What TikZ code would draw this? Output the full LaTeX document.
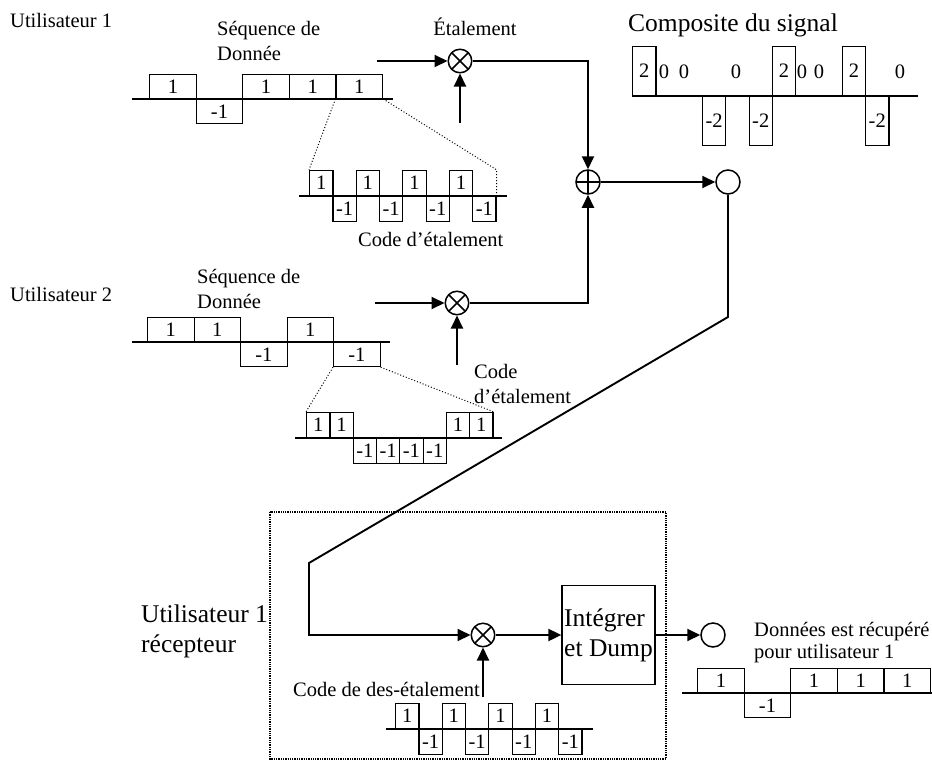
\documentclass[tikz,border=0pt]{standalone}
\usepackage{fontspec}
\setmainfont{Liberation Serif}
\usepackage{tikz}
\usetikzlibrary{
  positioning,
  arrows.meta
}
\newcommand{\labfont}{\fontsize{20.5}{25}\selectfont}
\newcommand{\headfont}{\fontsize{25.5}{30}\selectfont}

\begin{document}
\begin{tikzpicture}[
  x=1pt, y=-1pt,
  >={Triangle[length=13pt,width=12pt]},
  lbl/.style={font=\labfont, inner sep=0pt},
  head/.style={font=\headfont, inner sep=0pt},
  axis/.style={line width=1.2pt},
  wave/.style={draw, line width=1.2pt, inner sep=0pt, font=\labfont},
  bitup/.style={wave, anchor=south west},
  bitdn/.style={wave, anchor=north west},
  mix/.style={
    circle, draw, line width=1.5pt, minimum size=23.5pt, inner sep=0pt,
    path picture={\draw[line width=1.5pt]
      (path picture bounding box.north west) -- (path picture bounding box.south east)
      (path picture bounding box.north east) -- (path picture bounding box.south west);}
  },
  sum/.style={
    circle, draw, line width=1.5pt, minimum size=24pt, inner sep=0pt,
    path picture={\draw[line width=1.5pt]
      (path picture bounding box.north) -- (path picture bounding box.south)
      (path picture bounding box.west) -- (path picture bounding box.east);}
  },
  sink/.style={circle, draw, line width=1.5pt, minimum size=24pt, inner sep=0pt},
  link/.style={line width=1.9pt},
  zoomline/.style={dotted, line width=1pt}
]
\useasboundingbox (0,0) rectangle (932,761);

% utilisateur 1
\node[lbl, anchor=base west] (u1) at (10,27) {Utilisateur 1};
\node[lbl, align=left, anchor=north west] (seq1) at (217,21) {Séquence de\\Donnée};
\draw[axis] (132,99) -- (393,99);
\foreach \v [count=\i from 0] in {1,-1,1,1,1}{
  \ifnum\v>0
    \node[bitup, minimum width=46.6pt, minimum height=24pt] (da\i) at ({149+46.6*\i},99) {\v};
  \else
    \node[bitdn, minimum width=46.6pt, minimum height=24pt] (da\i) at ({149+46.6*\i},99) {\v};
  \fi
}
\draw[axis] (299,196) -- (507,196);
\foreach \v [count=\i from 0] in {1,-1,1,-1,1,-1,1,-1}{
  \ifnum\v>0
    \node[bitup, minimum width=23.3pt, minimum height=25pt] (ca\i) at ({309+23.3*\i},196) {\v};
  \else
    \node[bitdn, minimum width=23.3pt, minimum height=25pt] (ca\i) at ({309+23.3*\i},196) {\v};
  \fi
}
\draw[zoomline] (da4.south west) -- (ca0.north west);
\draw[zoomline] (da4.south east) -- (ca7.east |- ca0.north) -- (ca7.north east);
\node[lbl, anchor=base west] (codeA) at (358,246) {Code d’étalement};

\node[mix] (mA) at (460,61) {};
\node[lbl, above=13pt of mA, xshift=15pt] (etal) {Étalement};
\coordinate (inA) at (377,61);
\coordinate (spA) at (460,123);
\draw[link, ->] (inA) -- (mA);
\draw[link, ->] (spA) -- (mA);

% utilisateur 2
\node[lbl, anchor=base west] (u2) at (10,301) {Utilisateur 2};
\node[lbl, align=left, anchor=north west] (seq2) at (197,269) {Séquence de\\Donnée};
\draw[axis] (132,342) -- (390,342);
\foreach \v [count=\i from 0] in {1,1,-1,1,-1}{
  \ifnum\v>0
    \node[bitup, minimum width=46.5pt, minimum height=24pt] (db\i) at ({147+46.5*\i},342) {\v};
  \else
    \node[bitdn, minimum width=46.5pt, minimum height=24pt] (db\i) at ({147+46.5*\i},342) {\v};
  \fi
}
\draw[axis] (295,438) -- (502,438);
\foreach \v [count=\i from 0] in {1,1,-1,-1,-1,-1,1,1}{
  \ifnum\v>0
    \node[bitup, minimum width=23.3pt, minimum height=25pt] (cb\i) at ({306+23.3*\i},438) {\v};
  \else
    \node[bitdn, minimum width=23.3pt, minimum height=25pt] (cb\i) at ({306+23.3*\i},438) {\v};
  \fi
}
\draw[zoomline] (db4.south west) -- (cb0.north west);
\draw[zoomline] (db4.south east) -- (cb7.north east);

\node[mix] (mB) at (457,303) {};
\node[lbl, align=left, anchor=north west] (codeB) at (474,364) {Code\\d’étalement};
\coordinate (inB) at (375,303);
\coordinate (spB) at (457,365);
\draw[link, ->] (inB) -- (mB);
\draw[link, ->] (spB) -- (mB);

% canal
\node[sum] (add) at (588,182) {};
\node[sink] (out) at (728,182) {};
\draw[link, ->] (mA) -| (add);
\draw[link, ->] (mB) -| (add);
\draw[link, ->] (add) -- (out);

\node[head, anchor=base west] (comp) at (628,31) {Composite du signal};
\draw[axis] (632,96) -- (918,96);
\foreach \k in {0,6,9}
  \node[bitup, minimum width=23.3pt, minimum height=49pt] (cu\k) at ({632+23.3*\k},96) {2};
\foreach \k in {3,5,10}
  \node[bitdn, minimum width=23.3pt, minimum height=49pt] (cd\k) at ({632+23.3*\k},96) {-2};
\foreach \x [count=\i] in {664,684,736,802,819,900}
  \node[lbl] (cz\i) at (\x,72) {0};

% récepteur
\draw[densely dotted, line width=1.3pt] (270,512) rectangle (666,759);
\node[head, align=left, anchor=north west] (rcv) at (141,605) {Utilisateur 1\\récepteur};

\coordinate (b1) at (728,317);
\coordinate (b2) at (309,563);
\node[mix] (mC) at (483,635) {};
\node[draw, line width=1.3pt, font=\headfont, align=left, inner sep=0pt,
  minimum width=93pt, minimum height=99pt] (intg) at (608.5,635) {Intégrer\\et Dump};
\node[sink] (rx) at (713,635) {};
\draw[link, ->] (out) -- (b1) -- (b2) |- (mC);
\draw[link, ->] (mC) -- (intg);
\draw[link, ->] (intg) -- (rx);
\coordinate (spC) at (483,697);
\draw[link, ->] (spC) -- (mC);

\node[lbl, anchor=base west] (codeC) at (293,696) {Code de des-étalement};
\draw[axis] (386,729) -- (593,729);
\foreach \v [count=\i from 0] in {1,-1,1,-1,1,-1,1,-1}{
  \ifnum\v>0
    \node[bitup, minimum width=23.3pt, minimum height=25pt] (cc\i) at ({395+23.3*\i},729) {\v};
  \else
    \node[bitdn, minimum width=23.3pt, minimum height=25pt] (cc\i) at ({395+23.3*\i},729) {\v};
  \fi
}

\node[lbl, align=left, anchor=north west, font=\fontsize{20.5}{22}\selectfont] (recov) at (754,622)
  {Données est récupéré\\pour utilisateur 1};
\draw[axis] (682,693) -- (932,693);
\foreach \v [count=\i from 0] in {1,-1,1,1,1}{
  \ifnum\v>0
    \node[bitup, minimum width=46.6pt, minimum height=24pt] (dr\i) at ({697+46.6*\i},693) {\v};
  \else
    \node[bitdn, minimum width=46.6pt, minimum height=24pt] (dr\i) at ({697+46.6*\i},693) {\v};
  \fi
}

\end{tikzpicture}
\end{document}
